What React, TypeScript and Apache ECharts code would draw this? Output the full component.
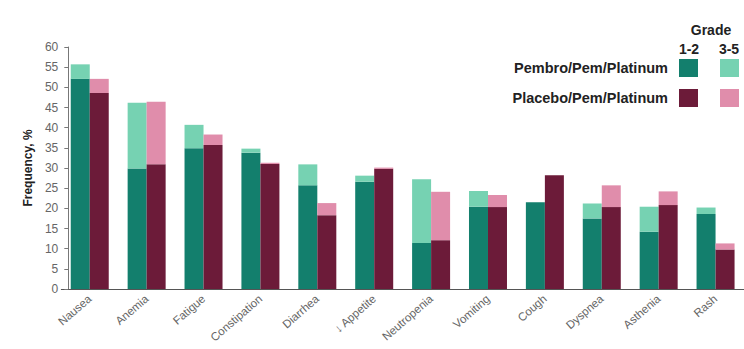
import React, { useEffect, useRef } from "react";
import * as echarts from "echarts";

const categories = ["Nausea", "Anemia", "Fatigue", "Constipation", "Diarrhea", "↓ Appetite", "Neutropenia", "Vomiting", "Cough", "Dyspnea", "Asthenia", "Rash"];
const pembroGrade12 = [52.1, 29.9, 34.9, 33.8, 25.7, 26.6, 11.4, 20.4, 21.5, 17.5, 14.2, 18.6];
const pembroGrade35 = [3.6, 16.3, 5.8, 1.0, 5.2, 1.5, 15.8, 3.9, 0.0, 3.7, 6.2, 1.6];
const placeboGrade12 = [48.6, 30.9, 35.7, 31.0, 18.3, 29.8, 12.1, 20.3, 28.2, 20.3, 20.8, 9.8];
const placeboGrade35 = [3.5, 15.5, 2.6, 0.3, 3.0, 0.3, 12.0, 3.0, 0.0, 5.4, 3.4, 1.5];
const yTicks = [0, 5, 10, 15, 20, 25, 30, 35, 40, 45, 50, 55, 60];

const C = {
  teal: "#137f6d",
  mint: "#76d2b2",
  maroon: "#6c1b39",
  pink: "#e08dab",
};

export default function App() {
  const ref = useRef<HTMLDivElement>(null);
  useEffect(() => {
    if (!ref.current) return;
    const chart = echarts.init(ref.current, undefined, { renderer: "svg" });
    const font = "'Liberation Sans', Arial, sans-serif";
    const bar = (name: string, stack: string, data: number[], color: string) => ({
      name,
      type: "bar",
      stack,
      data,
      barWidth: 19,
      barGap: "0%",
      itemStyle: { color },
    });
    chart.setOption({
      animation: false,
      textStyle: { fontFamily: font },
      grid: { left: 61.3, right: -6.7, top: 47, bottom: 60, containLabel: false },
      xAxis: {
        type: "category",
        data: categories,
        boundaryGap: true,
        axisLine: { lineStyle: { color: "#555", width: 1 } },
        axisTick: { show: false },
        axisLabel: { rotate: 41, fontSize: 11.5, color: "#666", margin: 8, interval: 0, fontFamily: font },
      },
      yAxis: {
        type: "value",
        min: yTicks[0],
        max: yTicks[yTicks.length - 1],
        interval: 5,
        offset: -7,
        name: "Frequency, %",
        nameLocation: "middle",
        nameRotate: 90,
        nameGap: 33,
        nameTextStyle: { fontSize: 12, fontWeight: "bold", color: "#222", fontFamily: font },
        axisLine: { show: true, lineStyle: { color: "#777" } },
        axisTick: { show: true, length: 4, lineStyle: { color: "#777" } },
        splitLine: { show: false },
        axisLabel: { fontSize: 12, color: "#666", margin: 10, fontFamily: font },
      },
      series: [
        bar("Pembro 1-2", "p", pembroGrade12, C.teal),
        bar("Pembro 3-5", "p", pembroGrade35, C.mint),
        bar("Placebo 1-2", "c", placeboGrade12, C.maroon),
        bar("Placebo 3-5", "c", placeboGrade35, C.pink),
      ],
      graphic: [
        { type: "text", x: 711, y: 30, style: { text: "Grade", font: `bold 14px ${font}`, fill: "#222", align: "center", verticalAlign: "middle" } },
        { type: "text", x: 689, y: 49, style: { text: "1-2", font: `bold 14px ${font}`, fill: "#222", align: "center", verticalAlign: "middle" } },
        { type: "text", x: 729, y: 49, style: { text: "3-5", font: `bold 14px ${font}`, fill: "#222", align: "center", verticalAlign: "middle" } },
        { type: "text", x: 668, y: 68, style: { text: "Pembro/Pem/Platinum", font: `bold 14.5px ${font}`, fill: "#222", align: "right", verticalAlign: "middle" } },
        { type: "text", x: 668, y: 98, style: { text: "Placebo/Pem/Platinum", font: `bold 14.5px ${font}`, fill: "#222", align: "right", verticalAlign: "middle" } },
        { type: "rect", shape: { x: 679, y: 59, width: 19, height: 18 }, style: { fill: C.teal } },
        { type: "rect", shape: { x: 720, y: 59, width: 19, height: 18 }, style: { fill: C.mint } },
        { type: "rect", shape: { x: 679, y: 89, width: 19, height: 18 }, style: { fill: C.maroon } },
        { type: "rect", shape: { x: 720, y: 89, width: 19, height: 18 }, style: { fill: C.pink } },
      ],
    });
    return () => chart.dispose();
  }, []);
  return <div ref={ref} style={{ width: 744, height: 349, position: "absolute", left: 0, top: 0 }} />;
}
